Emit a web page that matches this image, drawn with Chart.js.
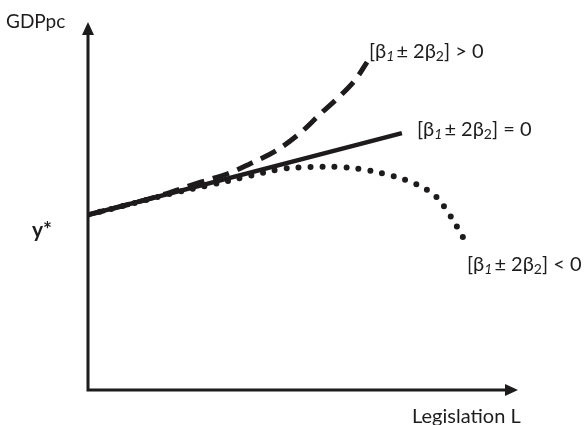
<!DOCTYPE html>
<html>
<head>
<meta charset="utf-8">
<script src="https://cdn.jsdelivr.net/npm/chart.js@4"></script>
<style>
  html, body { margin: 0; padding: 0; background: #fff; }
  #wrap { width: 585px; height: 425px; position: relative; }
</style>
</head>
<body>
<div id="wrap"><canvas id="chart"></canvas></div>
<script>
// values (x: legislation, y: GDP per capita)
const yStar = 4.76;

const positiveX = [0, 1.44, 2.6, 3.3, 3.77, 4.37, 4.93, 5.4, 5.86, 6.21, 6.49];
const positiveY = [4.76, 5.2, 5.64, 5.9, 6.15, 6.5, 6.98, 7.5, 7.99, 8.42, 8.91];

const zeroX = [0, 7.3];
const zeroY = [4.76, 6.98];

const negativeX = [0, 0.98, 1.91, 2.84, 3.77, 4.47, 5.16, 5.86, 6.47, 7.0, 7.56, 8.05, 8.4, 8.7, 8.84];
const negativeY = [4.76, 5.05, 5.33, 5.57, 5.82, 6.0, 6.06, 6.06, 5.98, 5.84, 5.63, 5.3, 4.78, 4.19, 3.89];

const ink = '#1d1b1c';
const font = 'Lato, "Liberation Sans", sans-serif';

function pts(xs, ys) {
  return xs.map((x, i) => ({ x: x, y: ys[i] }));
}

// axes with arrow heads, plus the labels
const sketchPlugin = {
  id: 'sketch',
  afterDatasetsDraw(chart) {
    const ctx = chart.ctx;
    const xs = chart.scales.x, ys = chart.scales.y;
    const left = xs.getPixelForValue(0), right = xs.getPixelForValue(10);
    const bottom = ys.getPixelForValue(0), top = ys.getPixelForValue(10);

    ctx.save();
    ctx.strokeStyle = ink;
    ctx.fillStyle = ink;
    ctx.lineWidth = 3;
    ctx.lineCap = 'butt';
    ctx.beginPath();
    ctx.moveTo(left, top + 10);
    ctx.lineTo(left, bottom);
    ctx.lineTo(right - 10, bottom);
    ctx.stroke();

    // arrow heads
    ctx.beginPath();
    ctx.moveTo(left, top);
    ctx.lineTo(left - 6, top + 13);
    ctx.lineTo(left + 6, top + 13);
    ctx.closePath();
    ctx.fill();
    ctx.beginPath();
    ctx.moveTo(right, bottom);
    ctx.lineTo(right - 13, bottom - 6);
    ctx.lineTo(right - 13, bottom + 6);
    ctx.closePath();
    ctx.fill();

    ctx.textBaseline = 'alphabetic';
    ctx.font = '19px ' + font;
    ctx.fillText('GDPpc', 6, 28);
    ctx.font = '20px ' + font;
    ctx.fillText('Legislation L', 412, 423);

    ctx.font = 'bold 21px ' + font;
    ctx.fillText('y*', 32, ys.getPixelForValue(yStar) + 22);

    drawBeta(ctx, 369, 58, '> 0');
    drawBeta(ctx, 417, 136, '= 0');
    drawBeta(ctx, 467, 271, '< 0');
    ctx.restore();
  }
};

function drawBeta(ctx, x, y, rel) {
  const parts = [
    { t: '[\u03b2', f: '20px ' + font, dy: 0 },
    { t: '1', f: 'italic 14px ' + font, dy: 3 },
    { t: '\u00b1 2\u03b2', f: '20px ' + font, dy: 0 },
    { t: '2', f: '14px ' + font, dy: 3 },
    { t: '] ' + rel, f: '20px ' + font, dy: 0 }
  ];
  let cx = x;
  parts.forEach(p => {
    ctx.font = p.f;
    ctx.fillText(p.t, cx, y + p.dy);
    cx += ctx.measureText(p.t).width + (p.t === '1' ? 2 : 0);
  });
}

new Chart(document.getElementById('chart'), {
  type: 'scatter',
  data: {
    datasets: [
      {
        label: '[β1 ± 2β2] < 0',
        data: pts(negativeX, negativeY),
        showLine: true,
        borderColor: ink,
        borderWidth: 6,
        borderDash: [0, 12],
        borderCapStyle: 'round',
        tension: 0.35,
        pointRadius: 0
      },
      {
        label: '[β1 ± 2β2] > 0',
        data: pts(positiveX, positiveY),
        showLine: true,
        borderColor: ink,
        borderWidth: 5,
        borderDash: [17, 9],
        tension: 0.35,
        pointRadius: 0
      },
      {
        label: '[β1 ± 2β2] = 0',
        data: pts(zeroX, zeroY),
        showLine: true,
        borderColor: ink,
        borderWidth: 4.5,
        pointRadius: 0
      }
    ]
  },
  options: {
    responsive: true,
    maintainAspectRatio: false,
    animation: false,
    layout: { padding: { left: 88, right: 67, top: 22, bottom: 35 } },
    plugins: { legend: { display: false }, tooltip: { enabled: false } },
    scales: {
      x: { type: 'linear', min: 0, max: 10, display: false },
      y: { type: 'linear', min: 0, max: 10, display: false }
    }
  },
  plugins: [sketchPlugin]
});
</script>
</body>
</html>
